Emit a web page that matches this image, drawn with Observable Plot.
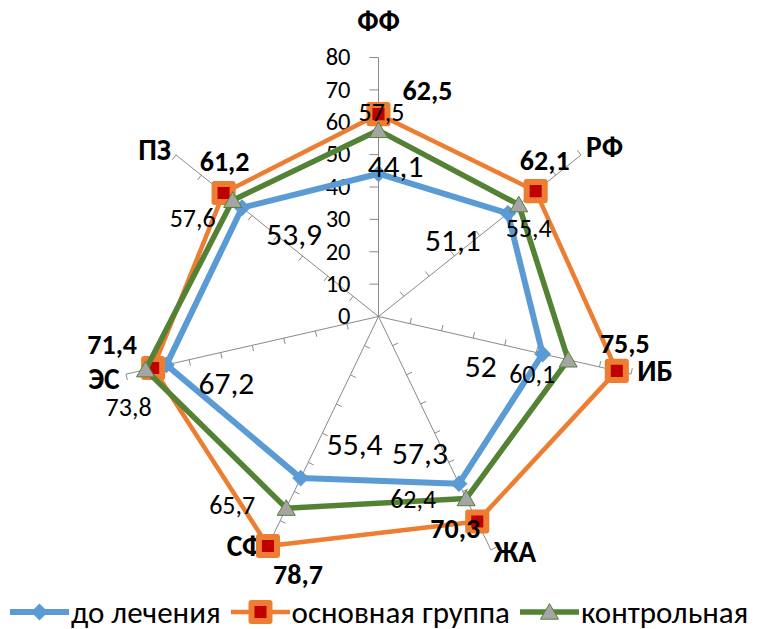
<!DOCTYPE html>
<html>
<head>
<meta charset="utf-8">
<script src="https://cdn.jsdelivr.net/npm/d3@7"></script>
<script src="https://cdn.jsdelivr.net/npm/@observablehq/plot@0.6"></script>
<style>
  html, body { margin: 0; padding: 0; background: #fff; }
  #chart { width: 765px; height: 595px; }
  #chart svg { display: block; }
  .legend {
    display: flex; align-items: center; height: 34px; line-height: 1;
    padding-left: 10px; font-family: Carlito, Calibri, Lato, "Open Sans", sans-serif;
    font-size: 31px; color: #000; white-space: nowrap;
  }
  .legend .item { display: flex; align-items: center; margin-right: 10px; }
  .legend svg { display: block; margin-right: 2px; }
</style>
</head>
<body>
<div id="chart"></div>
<script>
// Axes of the radar (clockwise from the top)
const categories = ["ФФ", "РФ", "ИБ", "ЖА", "СФ", "ЭС", "ПЗ"];
// Scores per axis
const beforeTreatment = [44.1, 51.1, 52, 57.3, 55.4, 67.2, 53.9];
const mainGroup = [62.5, 62.1, 75.5, 70.3, 78.7, 71.4, 61.2];
const controlGroup = [57.5, 55.4, 60.1, 62.4, 65.7, 73.8, 57.6];
const seriesNames = ["до лечения", "основная группа", "контрольная"];
// Radial value axis
const radialTicks = [0, 10, 20, 30, 40, 50, 60, 70, 80];

// ---- layout ----
const W = 765, H = 595;
const cx = 378, cy = 316;          // centre of the radar in pixels
const rMax = 80;
const pxPerUnit = 259 / rMax;
const FONT = "Carlito, Calibri, Lato, 'Open Sans', sans-serif";

// label offsets in pixels (screen x, screen y) for each series, per axis
const beforeLabelOffset = [[17, -7], [-55, 28], [-62, 13], [-39, -30], [54, -33], [60, 19], [52, 27]];
const mainLabelOffset = [[49, -23], [9, -30], [8, -27], [-22, 7], [30, 29], [-41, -23], [1, -31]];
const controlLabelOffset = [[3, -18], [10, 24], [-36, 15], [-53, 1], [-54, -2], [-17, 38], [-40, 18]];
// category label placement (radius in value units, extra vertical shift in px)
const catLabelR = [91, 82, 82, 82, 82, 82, 82];
const catLabelDy = [0, -3, -4, -3, -9, 4, 0];

const n = categories.length;
const angle = i => Math.PI / 2 - i * 2 * Math.PI / n;
const px = (v, i) => v * Math.cos(angle(i));
const py = (v, i) => v * Math.sin(angle(i));
const fmt = v => String(v).replace(".", ",");

function rows(values, name) {
  return values.map((v, i) => ({series: name, axis: categories[i], i, value: v, x: px(v, i), y: py(v, i)}));
}
const before = rows(beforeTreatment, seriesNames[0]);
const main = rows(mainGroup, seriesNames[1]);
const control = rows(controlGroup, seriesNames[2]);

const spokes = categories.map((c, i) => ({i}));
const tickData = [];
categories.forEach((c, i) => {
  radialTicks.filter(t => t > 0).forEach(t => tickData.push({i, t, len: i === 0 ? 9 : 6}));
});
const perpX = i => -Math.sin(angle(i));
const perpY = i => Math.cos(angle(i));
const catAnchor = i => {
  const c = Math.cos(angle(i));
  return Math.abs(c) < 0.1 ? "middle" : c > 0 ? "start" : "end";
};

const BLUE = "#5B9BD5", ORANGE = "#ED7D31", RED = "#C00000", GREEN = "#548235", GREY = "#A5A5A5";
const AXIS = "#898989";

function valueLabels(data, offsets, opts) {
  return Plot.text(data, {
    x: d => d.x + offsets[d.i][0] / pxPerUnit,
    y: d => d.y - offsets[d.i][1] / pxPerUnit,
    text: d => fmt(d.value),
    fill: "#000",
    fontFamily: FONT,
    ...opts
  });
}

const chart = Plot.plot({
  width: W,
  height: H,
  margin: 0,
  x: {domain: [-cx / pxPerUnit, (W - cx) / pxPerUnit], range: [0, W], axis: null},
  y: {domain: [-(H - cy) / pxPerUnit, cy / pxPerUnit], range: [H, 0], axis: null},
  style: {fontFamily: FONT, background: "#fff"},
  marks: [
    // spokes
    Plot.link(spokes, {x1: () => 0, y1: () => 0, x2: d => px(rMax, d.i), y2: d => py(rMax, d.i), stroke: AXIS, strokeWidth: 1}),
    // tick marks along each spoke
    Plot.link(tickData, {
      x1: d => px(d.t, d.i), y1: d => py(d.t, d.i),
      x2: d => px(d.t, d.i) + perpX(d.i) * d.len / pxPerUnit,
      y2: d => py(d.t, d.i) + perpY(d.i) * d.len / pxPerUnit,
      stroke: AXIS, strokeWidth: 1
    }),
    // value axis labels
    Plot.text(radialTicks, {x: () => 0, y: d => d, text: d => String(d), dx: -28, textAnchor: "end", fontSize: 24.5, fill: "#000"}),
    // category labels, one mark per anchor side
    ...["start", "middle", "end"].map(anchor => Plot.text(spokes.filter(d => catAnchor(d.i) === anchor), {
      x: d => px(catLabelR[d.i], d.i),
      y: d => py(catLabelR[d.i], d.i) - catLabelDy[d.i] / pxPerUnit,
      text: d => categories[d.i],
      textAnchor: anchor,
      fontSize: 29.5, fontWeight: "bold", fill: "#000"
    })),
    // before treatment
    Plot.line(before, {x: "x", y: "y", stroke: BLUE, strokeWidth: 6, curve: "linear-closed", strokeLinejoin: "round"}),
    Plot.dot(before, {x: "x", y: "y", symbol: "diamond2", r: 7.6, fill: BLUE, stroke: "none"}),
    // main group
    Plot.line(main, {x: "x", y: "y", stroke: ORANGE, strokeWidth: 4.5, curve: "linear-closed", strokeLinejoin: "round"}),
    Plot.dot(main, {x: "x", y: "y", symbol: "square", r: 10.2, fill: RED, stroke: ORANGE, strokeWidth: 6, strokeLinejoin: "round"}),
    // control group
    Plot.line(control, {x: "x", y: "y", stroke: GREEN, strokeWidth: 5.5, curve: "linear-closed", strokeLinejoin: "round"}),
    Plot.dot(control, {x: "x", y: "y", symbol: "triangle", r: 6.7, dy: 2, fill: GREY, stroke: GREEN, strokeWidth: 1}),
    // data labels
    valueLabels(before, beforeLabelOffset, {fontSize: 31.5}),
    valueLabels(control, controlLabelOffset, {fontSize: 26}),
    valueLabels(main, mainLabelOffset, {fontSize: 28, fontWeight: "bold"})
  ]
});

document.getElementById("chart").appendChild(chart);

// legend
const legend = d3.select("body").append("div").attr("class", "legend");
const swatches = [
  {name: seriesNames[0], draw: g => {
    g.append("line").attr("x1", 0).attr("x2", 59).attr("y1", 15).attr("y2", 15).attr("stroke", BLUE).attr("stroke-width", 6);
    g.append("path").attr("d", d3.symbol(d3.symbolDiamond2, 184)()).attr("transform", "translate(29.5,15)").attr("fill", BLUE);
  }},
  {name: seriesNames[1], draw: g => {
    g.append("line").attr("x1", 0).attr("x2", 59).attr("y1", 15).attr("y2", 15).attr("stroke", ORANGE).attr("stroke-width", 4.5);
    g.append("rect").attr("x", 29.5 - 9).attr("y", 6).attr("width", 18).attr("height", 18).attr("fill", RED).attr("stroke", ORANGE).attr("stroke-width", 6).attr("stroke-linejoin", "round");
  }},
  {name: seriesNames[2], draw: g => {
    g.append("line").attr("x1", 0).attr("x2", 59).attr("y1", 15).attr("y2", 15).attr("stroke", GREEN).attr("stroke-width", 5.5);
    g.append("path").attr("d", d3.symbol(d3.symbolTriangle, 140)()).attr("transform", "translate(29.5,17)").attr("fill", GREY).attr("stroke", GREEN);
  }}
];
swatches.forEach(s => {
  const item = legend.append("div").attr("class", "item");
  const svg = item.append("svg").attr("width", 59).attr("height", 30);
  s.draw(svg);
  item.append("span").text(s.name);
});
</script>
</body>
</html>
